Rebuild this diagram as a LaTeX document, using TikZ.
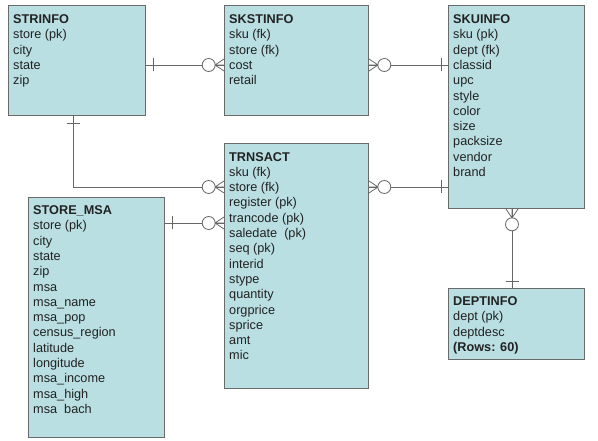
\documentclass[tikz,border=0pt]{standalone}
\usepackage{fontspec}
\setmainfont{Liberation Sans}
\definecolor{efill}{HTML}{B9DFE3}
\definecolor{edraw}{HTML}{6A6A6A}
\definecolor{lcol}{HTML}{666666}
\definecolor{tcol}{HTML}{222222}
\begin{document}
\begin{tikzpicture}[x=1pt,y=1pt,
  entity/.style={draw=edraw, fill=efill, line width=1pt, rectangle, anchor=north west, inner sep=0pt},
  etext/.style={anchor=north west, inner sep=0pt, align=left, text=tcol, font=\fontsize{12.7}{15.3}\selectfont},
  rel/.style={draw=lcol, line width=0.8pt},
  one/.pic={\draw[rel] (7,-6.5) -- (7,6.5);},
  zeromany/.pic={\draw[rel] (0,6) -- (9,0) (0,-6) -- (9,0) (0,0) -- (9,0);
                 \draw[rel, fill=white] (15.3,0) circle (6.5);}
]
\useasboundingbox (0,0) rectangle (598,-441);
\fill[white] (0,0) rectangle (598,-441);

% entities
\node[entity, minimum width=137pt, minimum height=110pt] (strinfo) at (8,-5) {};
\node[etext] (strinfo-t) at ([shift={(5,-9.5)}]strinfo.north west)
  {\textbf{STRINFO}\\store (pk)\\city\\state\\zip};

\node[entity, minimum width=144pt, minimum height=110pt] (skstinfo) at (224,-5) {};
\node[etext] (skstinfo-t) at ([shift={(5,-9.5)}]skstinfo.north west)
  {\textbf{SKSTINFO}\\sku (fk)\\store (fk)\\cost\\retail};

\node[entity, minimum width=136pt, minimum height=203pt] (skuinfo) at (448,-5) {};
\node[etext] (skuinfo-t) at ([shift={(5,-9.5)}]skuinfo.north west)
  {\textbf{SKUINFO}\\sku (pk)\\dept (fk)\\classid\\upc\\style\\color\\size\\packsize\\vendor\\brand};

\node[entity, minimum width=144pt, minimum height=245pt] (trnsact) at (224,-143) {};
\node[etext] (trnsact-t) at ([shift={(5,-9)}]trnsact.north west)
  {\textbf{TRNSACT}\\sku (fk)\\store (fk)\\register (pk)\\trancode (pk)\\saledate\ \ (pk)\\seq (pk)\\interid\\stype\\quantity\\orgprice\\sprice\\amt\\mic};

\node[entity, minimum width=136pt, minimum height=240pt] (storemsa) at (28,-197) {};
\node[etext] (storemsa-t) at ([shift={(5,-8.5)}]storemsa.north west)
  {\textbf{STORE\_MSA}\\store (pk)\\city\\state\\zip\\msa\\msa\_name\\msa\_pop\\census\_region\\latitude\\longitude\\msa\_income\\msa\_high\\msa\ \ bach};

\node[entity, minimum width=136pt, minimum height=71pt] (deptinfo) at (448,-288) {};
\node[etext] (deptinfo-t) at ([shift={(5,-8.5)}]deptinfo.north west)
  {\textbf{DEPTINFO}\\dept (pk)\\deptdesc\\\textbf{(Rows: 60)}};

% coordinates on box edges
\coordinate (a1) at (strinfo.east |- 0,-65);
\coordinate (b1) at (skstinfo.west |- 0,-65);
\coordinate (a2) at (strinfo.south -| 73,0);
\coordinate (b2) at (trnsact.west |- 0,-187);
\coordinate (a3) at (skstinfo.east |- 0,-65);
\coordinate (b3) at (skuinfo.west |- 0,-65);
\coordinate (a4) at (trnsact.east |- 0,-187);
\coordinate (b4) at (skuinfo.west |- 0,-187);
\coordinate (a5) at (storemsa.east |- 0,-223);
\coordinate (b5) at (trnsact.west |- 0,-223);
\coordinate (a6) at (skuinfo.south -| 512,0);
\coordinate (b6) at (deptinfo.north -| 512,0);

% connectors
\draw[rel] (a1) -- (b1);
\draw[rel] (a2) |- (b2);
\draw[rel] (a3) -- (b3);
\draw[rel] (a4) -- (b4);
\draw[rel] (a5) -- (b5);
\draw[rel] (a6) -- (b6);

% end markers
\pic at (a1) {one};
\pic[rotate=180] at (b1) {zeromany};
\pic[rotate=-90] at (a2) {one};
\pic[rotate=180] at (b2) {zeromany};
\pic at (a3) {zeromany};
\pic[rotate=180] at (b3) {one};
\pic at (a4) {zeromany};
\pic[rotate=180] at (b4) {one};
\pic at (a5) {one};
\pic[rotate=180] at (b5) {zeromany};
\pic[rotate=-90] at (a6) {zeromany};
\pic[rotate=90] at (b6) {one};
\end{tikzpicture}
\end{document}
